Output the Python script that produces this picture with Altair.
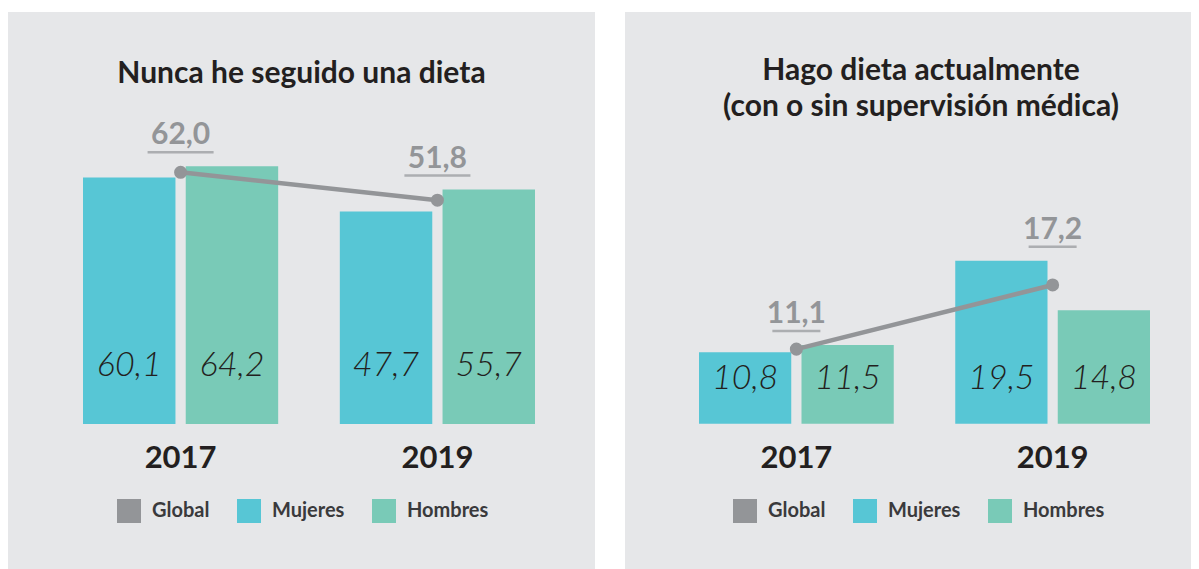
import altair as alt
import pandas as pd

# ---------------- data ----------------
years = ["2017", "2019"]
series = ["Global", "Mujeres", "Hombres"]
series_colors = ["#939598", "#57c6d5", "#79cab7"]

title_1 = "Nunca he seguido una dieta"
mujeres_1 = [60.1, 47.7]
hombres_1 = [64.2, 55.7]
global_1 = [62.0, 51.8]

title_2 = ["Hago dieta actualmente", "(con o sin supervisión médica)"]
mujeres_2 = [10.8, 19.5]
hombres_2 = [11.5, 14.8]
global_2 = [11.1, 17.2]

FONT = "Lato"
BG = "#e6e7e9"
DARK = "#231f20"
GREY = "#939598"
PANEL_H = 557


def fmt(v):
    return f"{v:.1f}".replace(".", ",")


def panel(title, title_offset, title_dx, mujeres, hombres, glob, domain, base,
          width, x_range, bar_dy, tick_size, legend_x):
    bars_df = pd.DataFrame({
        "year": years * 2,
        "sexo": ["Mujeres"] * 2 + ["Hombres"] * 2,
        "valor": mujeres + hombres,
    })
    bars_df["etiqueta"] = bars_df["valor"].map(fmt)
    g_df = pd.DataFrame({
        "year": years,
        "global": glob,
        "tope": [max(a, b, c) for a, b, c in zip(mujeres, hombres, glob)],
    })
    g_df["etiqueta"] = g_df["global"].map(fmt)

    x = alt.X(
        "year:N",
        title=None,
        scale=alt.Scale(range=x_range, paddingInner=0.24, paddingOuter=0),
        axis=alt.Axis(
            title=None, domain=False, ticks=False, grid=False, labelAngle=0,
            labelFont=FONT, labelFontSize=31, labelFontWeight="bold",
            labelColor=DARK, labelPadding=0, labelBaseline="middle",
            offset=-111,
        ),
    )
    x_plain = alt.X("year:N")
    yscale = alt.Scale(domain=domain, nice=False, zero=False)
    xoff = alt.XOffset("sexo:N",
                       scale=alt.Scale(domain=["Mujeres", "Hombres"],
                                       paddingInner=0.1, paddingOuter=0))

    bars = alt.Chart(bars_df).mark_bar().encode(
        x=x,
        xOffset=xoff,
        y=alt.Y("valor:Q", scale=yscale, axis=None),
        y2=alt.datum(base),
        color=alt.Color(
            "sexo:N",
            scale=alt.Scale(domain=series, range=series_colors),
            legend=alt.Legend(
                title=None, orient="none", legendX=legend_x, legendY=487,
                direction="horizontal", symbolType="square", symbolSize=576,
                symbolStrokeWidth=0, symbolOpacity=1, labelFont=FONT,
                labelFontSize=20, labelFontWeight="bold", labelColor="#3a3a3c",
                labelOffset=11, columnPadding=27,
            ),
        ),
    )
    bar_labels = alt.Chart(bars_df).mark_text(
        font=FONT, fontSize=34, fontStyle="italic", fontWeight=300,
        color=DARK, baseline="middle", dy=bar_dy,
    ).encode(x=x_plain, xOffset=xoff, y=alt.datum(base), text="etiqueta:N")

    line = alt.Chart(g_df).mark_line(color=GREY, strokeWidth=4.5).encode(
        x=x_plain, y=alt.Y("global:Q"))
    points = alt.Chart(g_df).mark_circle(color=GREY, size=170, opacity=1).encode(
        x=x_plain, y=alt.Y("global:Q"))
    g_labels = alt.Chart(g_df).mark_text(
        font=FONT, fontSize=30, fontWeight="bold", color=GREY,
        baseline="middle", dy=-31,
    ).encode(x=x_plain, y=alt.Y("tope:Q"), text="etiqueta:N")
    underline = alt.Chart(g_df).mark_tick(
        color=GREY, thickness=2.5, size=tick_size, orient="horizontal", yOffset=-14,
    ).encode(x=x_plain, y=alt.Y("tope:Q"))

    return alt.layer(bars, bar_labels, line, points, underline, g_labels).properties(
        width=width,
        height=PANEL_H,
        title=alt.Title(
            text=title, font=FONT, fontSize=30, fontWeight="bold", color=DARK,
            anchor="middle", baseline="middle", offset=title_offset,
            lineHeight=36, dx=title_dx,
        ),
    )


left = panel(title_1, -92, 0, mujeres_1, hombres_1, global_1,
             [-83.0, 120.6], -30.0, 587, [75, 527], -58, 66, 109)
right = panel(title_2, -125, 13, mujeres_2, hombres_2, global_2,
              [-9.8, 43.15], 4.0, 566, [74, 525], -45, 48, 108)

chart = alt.hconcat(left, right, spacing=30).resolve_scale(
    x="independent", y="independent", color="independent", xOffset="independent"
).resolve_legend(color="independent").properties(
    padding={"top": 4, "left": 0, "right": 0, "bottom": 0},
    background="white",
).configure_view(fill=BG, stroke=None)

chart.save("out.html", embed_options={"renderer": "svg", "actions": False})
